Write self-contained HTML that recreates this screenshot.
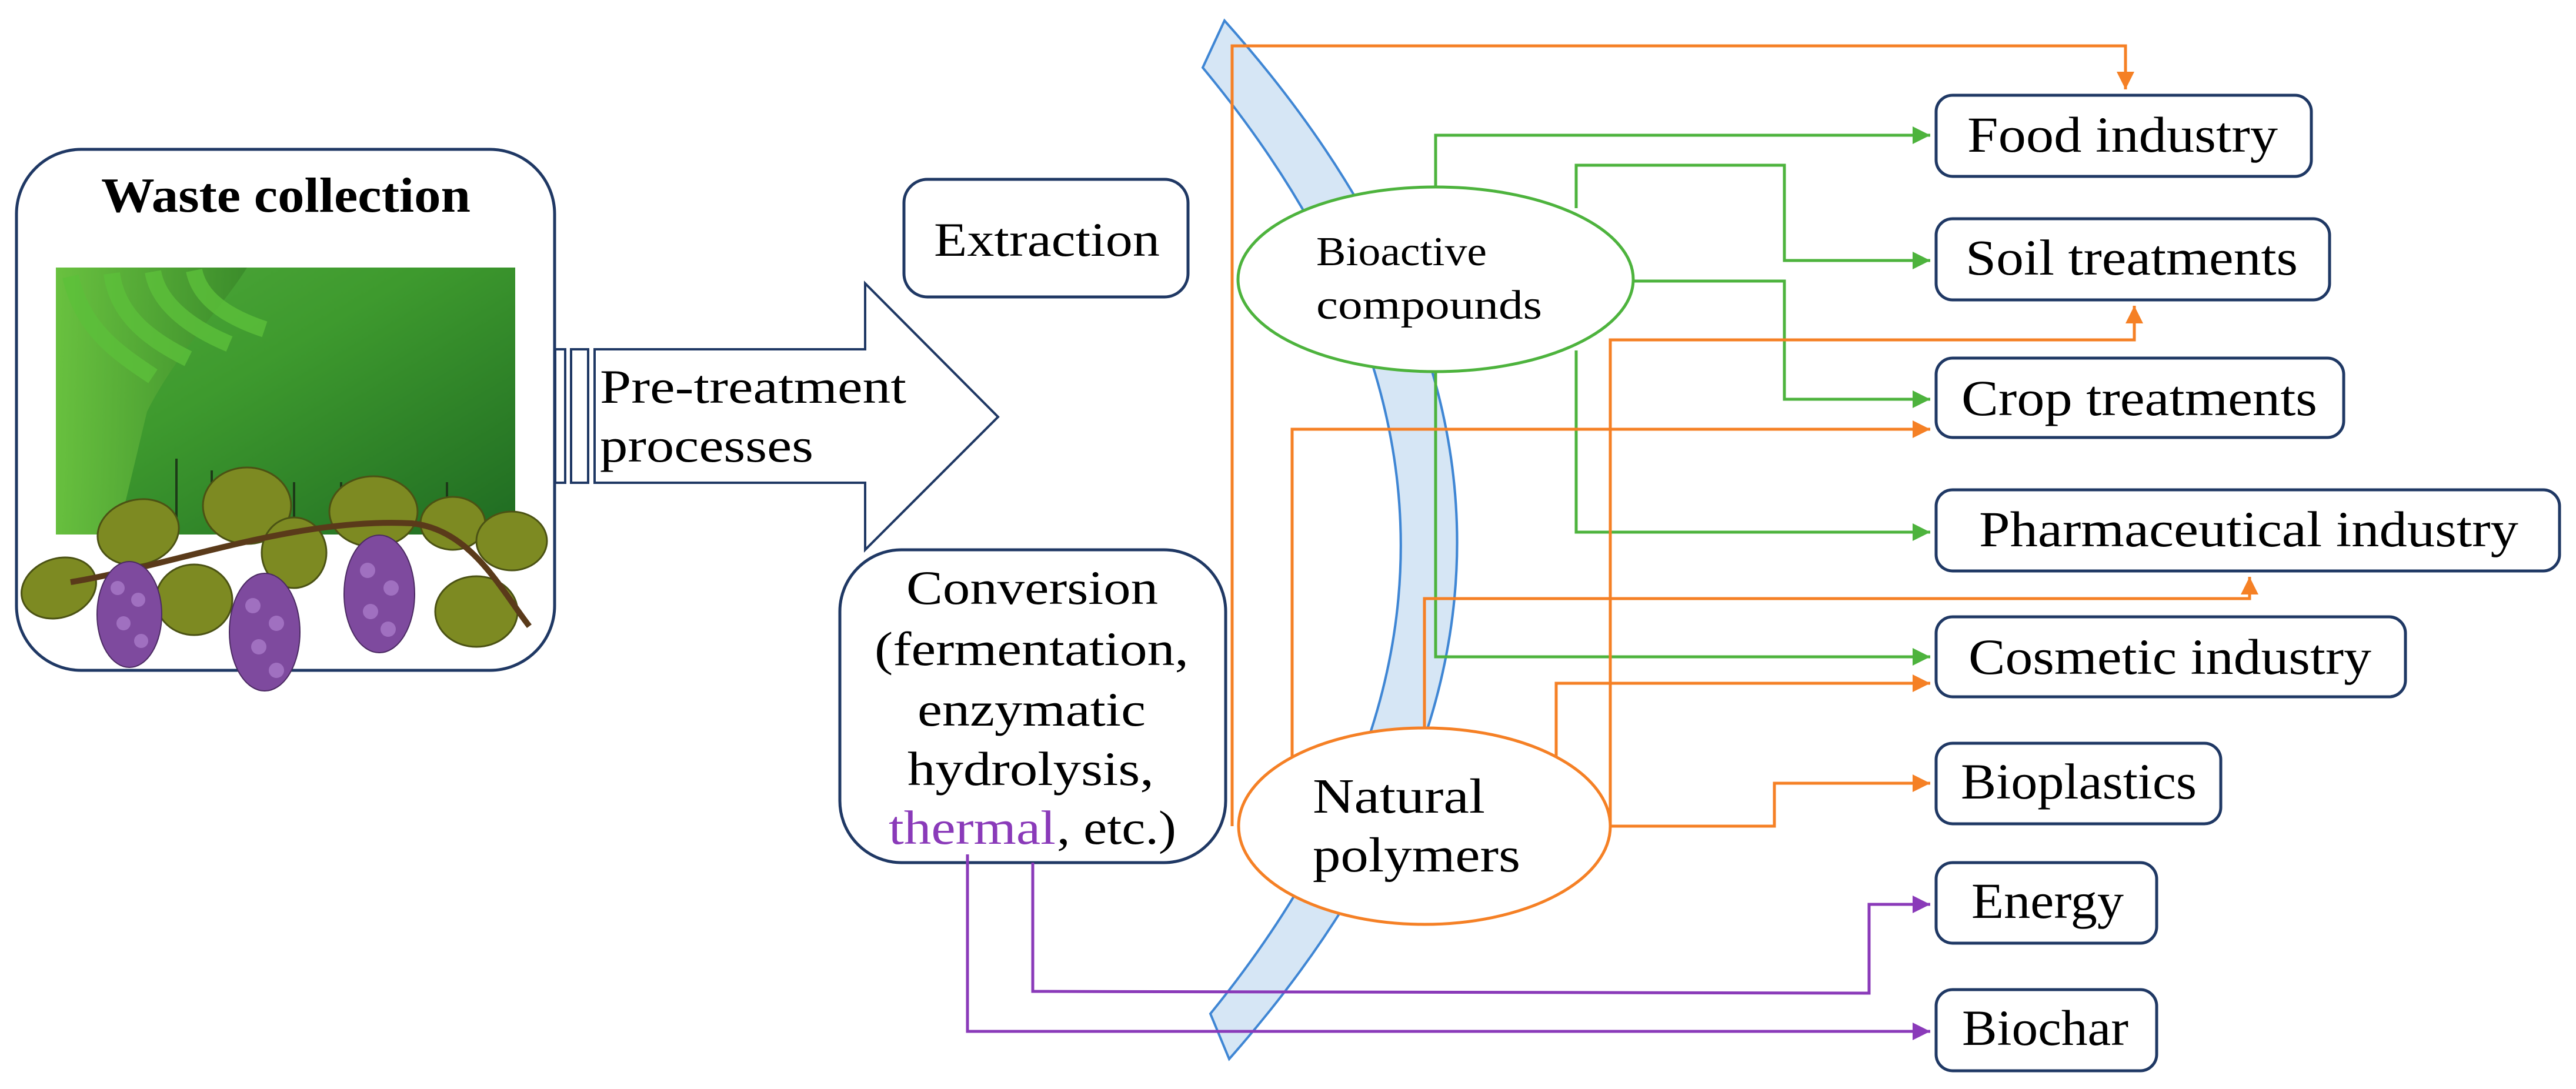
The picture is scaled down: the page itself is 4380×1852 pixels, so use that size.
<!DOCTYPE html>
<html><head><meta charset="utf-8"><style>
html,body{margin:0;padding:0;background:#fff}
svg{display:block}
text{font-family:"Liberation Serif",serif;fill:#000}
</style></head><body>
<svg width="4380" height="1852" viewBox="0 0 4380 1852" xmlns="http://www.w3.org/2000/svg">
<defs>
<linearGradient id="vg" x1="0" y1="0" x2="1" y2="1">
<stop offset="0" stop-color="#4fa83a"/><stop offset="0.4" stop-color="#3e9a2e"/><stop offset="1" stop-color="#1f6b22"/>
</linearGradient>
<linearGradient id="gr" x1="0" y1="0" x2="1" y2="0">
<stop offset="0" stop-color="#6cc440"/><stop offset="1" stop-color="#3a8a2a"/>
</linearGradient>
<marker id="ao" markerWidth="8" markerHeight="8" refX="6" refY="3" orient="auto" markerUnits="strokeWidth"><path d="M0,0 L6,3 L0,6 z" fill="#f58025"/></marker>
<marker id="ag" markerWidth="8" markerHeight="8" refX="6" refY="3" orient="auto" markerUnits="strokeWidth"><path d="M0,0 L6,3 L0,6 z" fill="#4db33d"/></marker>
<marker id="ap" markerWidth="8" markerHeight="8" refX="6" refY="3" orient="auto" markerUnits="strokeWidth"><path d="M0,0 L6,3 L0,6 z" fill="#8a3ab9"/></marker>
</defs>

<!-- Waste collection box -->
<rect x="28" y="254" width="915" height="886" rx="110" fill="#fff" stroke="#1f3864" stroke-width="5"/>
<text x="486" y="360" font-size="84" font-weight="bold" text-anchor="middle" textLength="628" lengthAdjust="spacingAndGlyphs">Waste collection</text>
<!-- vineyard image -->
<rect x="95" y="455" width="781" height="454" fill="url(#vg)"/>
<path d="M95,455 L420,455 C380,520 300,600 250,700 L200,909 L95,909 Z" fill="url(#gr)" opacity="0.9"/>
<g fill="none" stroke="#5cc03a" stroke-width="28" opacity="0.8">
<path d="M120,470 C140,560 200,600 260,640"/>
<path d="M190,465 C200,540 260,580 320,610"/>
<path d="M260,462 C270,520 330,560 390,585"/>
<path d="M330,460 C340,510 390,540 450,560"/>
</g>
<g stroke="#1d3a18" stroke-width="4">
<line x1="300" y1="780" x2="300" y2="880"/><line x1="360" y1="800" x2="360" y2="900"/><line x1="420" y1="810" x2="420" y2="909"/><line x1="500" y1="820" x2="500" y2="909"/><line x1="580" y1="820" x2="580" y2="909"/><line x1="660" y1="820" x2="660" y2="909"/><line x1="760" y1="820" x2="760" y2="909"/>
</g>
<!-- leaves -->
<g fill="#7d8a22" stroke="#4b5214" stroke-width="3">
<ellipse cx="100" cy="1000" rx="65" ry="50" transform="rotate(-20 100 1000)"/>
<ellipse cx="235" cy="905" rx="70" ry="55" transform="rotate(-15 235 905)"/>
<ellipse cx="420" cy="860" rx="75" ry="65"/>
<ellipse cx="330" cy="1020" rx="65" ry="60"/>
<ellipse cx="500" cy="940" rx="55" ry="60"/>
<ellipse cx="635" cy="870" rx="75" ry="60"/>
<ellipse cx="770" cy="890" rx="55" ry="45"/>
<ellipse cx="870" cy="920" rx="60" ry="50"/>
<ellipse cx="810" cy="1040" rx="70" ry="60"/>
</g>
<path d="M120,990 C300,960 500,880 700,890 C800,900 850,1000 900,1065" fill="none" stroke="#5a3a1a" stroke-width="10"/>
<!-- grapes -->
<g fill="#7e4a9e" stroke="#4b2a62" stroke-width="2">
<ellipse cx="220" cy="1045" rx="55" ry="90"/>
<ellipse cx="450" cy="1075" rx="60" ry="100"/>
<ellipse cx="645" cy="1010" rx="60" ry="100"/>
</g>
<g fill="#a070c0">
<circle cx="200" cy="1000" r="12"/><circle cx="235" cy="1020" r="12"/><circle cx="210" cy="1060" r="12"/><circle cx="240" cy="1090" r="12"/>
<circle cx="430" cy="1030" r="13"/><circle cx="470" cy="1060" r="13"/><circle cx="440" cy="1100" r="13"/><circle cx="470" cy="1140" r="13"/>
<circle cx="625" cy="970" r="13"/><circle cx="665" cy="1000" r="13"/><circle cx="630" cy="1040" r="13"/><circle cx="660" cy="1070" r="13"/>
</g>

<!-- small rects -->
<rect x="944" y="594" width="17" height="227" fill="#fff" stroke="#1f3864" stroke-width="4"/>
<rect x="971" y="594" width="29" height="227" fill="#fff" stroke="#1f3864" stroke-width="4"/>
<!-- big arrow -->
<path d="M1011,594 L1471,594 L1471,482 L1697,709 L1471,935 L1471,821 L1011,821 Z" fill="#fff" stroke="#1f3864" stroke-width="4"/>
<text x="1020" y="685" font-size="82" textLength="521" lengthAdjust="spacingAndGlyphs">Pre-treatment</text>
<text x="1020" y="785" font-size="82" textLength="363" lengthAdjust="spacingAndGlyphs">processes</text>

<!-- Extraction -->
<rect x="1537" y="305" width="483" height="200" rx="40" fill="#fff" stroke="#1f3864" stroke-width="5"/>
<text x="1588" y="435" font-size="82" textLength="384" lengthAdjust="spacingAndGlyphs">Extraction</text>

<!-- Conversion -->
<rect x="1428" y="935" width="656" height="532" rx="105" fill="#fff" stroke="#1f3864" stroke-width="5"/>
<text x="1541" y="1027" font-size="82" textLength="428" lengthAdjust="spacingAndGlyphs">Conversion</text>
<text x="1487" y="1131" font-size="82" textLength="534" lengthAdjust="spacingAndGlyphs">(fermentation,</text>
<text x="1560" y="1234" font-size="82" textLength="388" lengthAdjust="spacingAndGlyphs">enzymatic</text>
<text x="1543" y="1335" font-size="82" textLength="419" lengthAdjust="spacingAndGlyphs">hydrolysis,</text>
<text x="1511" y="1435" font-size="82" textLength="284" lengthAdjust="spacingAndGlyphs" style="fill:#8a3ab9">thermal</text>
<text x="1797" y="1435" font-size="82" textLength="203" lengthAdjust="spacingAndGlyphs">, etc.)</text>

<!-- blue band -->
<path d="M2082,35 Q2869,918 2090,1801 L2058,1724 Q2712,920 2045,115 Z" fill="#d6e6f5" stroke="#3f86d4" stroke-width="4"/>

<!-- connectors -->
<g fill="none" stroke-width="5">
<path d="M2095,1405 L2095,78 L3614,78 L3614,152" stroke="#f58025" marker-end="url(#ao)"/>
<path d="M2441,318 L2441,230 L3282,230" stroke="#4db33d" marker-end="url(#ag)"/>
<path d="M2680,354 L2680,281 L3034,281 L3034,443 L3282,443" stroke="#4db33d" marker-end="url(#ag)"/>
<path d="M2778,478 L3034,478 L3034,679 L3282,679" stroke="#4db33d" marker-end="url(#ag)"/>
<path d="M2680,596 L2680,905 L3282,905" stroke="#4db33d" marker-end="url(#ag)"/>
<path d="M2441,632 L2441,1117 L3282,1117" stroke="#4db33d" marker-end="url(#ag)"/>
<path d="M2197,1290 L2197,730 L3282,730" stroke="#f58025" marker-end="url(#ao)"/>
<path d="M2422,1238 L2422,1018 L3825,1018 L3825,981" stroke="#f58025" marker-end="url(#ao)"/>
<path d="M2646,1290 L2646,1162 L3282,1162" stroke="#f58025" marker-end="url(#ao)"/>
<path d="M2738,1405 L2738,578 L3629,578 L3629,520" stroke="#f58025" marker-end="url(#ao)"/>
<path d="M2738,1405 L3017,1405 L3017,1332 L3282,1332" stroke="#f58025" marker-end="url(#ao)"/>
<path d="M1756,1467 L1756,1686 L3178,1689 L3178,1538 L3282,1538" stroke="#8a3ab9" marker-end="url(#ap)"/>
<path d="M1645,1453 L1645,1754 L3282,1754" stroke="#8a3ab9" marker-end="url(#ap)"/>
</g>

<!-- ellipses -->
<ellipse cx="2441" cy="475" rx="336" ry="157" fill="#fff" stroke="#4db33d" stroke-width="5"/>
<text x="2238" y="451" font-size="70" textLength="290" lengthAdjust="spacingAndGlyphs">Bioactive</text>
<text x="2238" y="542" font-size="70" textLength="384" lengthAdjust="spacingAndGlyphs">compounds</text>
<ellipse cx="2422" cy="1405" rx="316" ry="167" fill="#fff" stroke="#f58025" stroke-width="5"/>
<text x="2232" y="1382" font-size="84" textLength="293" lengthAdjust="spacingAndGlyphs">Natural</text>
<text x="2232" y="1482" font-size="84" textLength="353" lengthAdjust="spacingAndGlyphs">polymers</text>

<!-- right boxes -->
<g fill="#fff" stroke="#1f3864" stroke-width="5">
<rect x="3292" y="162" width="638" height="138" rx="28"/>
<rect x="3292" y="372" width="669" height="138" rx="28"/>
<rect x="3292" y="609" width="693" height="135" rx="28"/>
<rect x="3292" y="833" width="1060" height="138" rx="28"/>
<rect x="3292" y="1049" width="798" height="136" rx="28"/>
<rect x="3292" y="1264" width="484" height="137" rx="28"/>
<rect x="3292" y="1467" width="375" height="137" rx="28"/>
<rect x="3292" y="1683" width="375" height="138" rx="28"/>
</g>
<g font-size="86">
<text x="3345" y="258" textLength="528" lengthAdjust="spacingAndGlyphs">Food industry</text>
<text x="3342" y="467" textLength="565" lengthAdjust="spacingAndGlyphs">Soil treatments</text>
<text x="3335" y="706" textLength="605" lengthAdjust="spacingAndGlyphs">Crop treatments</text>
<text x="3365" y="929" textLength="917" lengthAdjust="spacingAndGlyphs">Pharmaceutical industry</text>
<text x="3347" y="1146" textLength="685" lengthAdjust="spacingAndGlyphs">Cosmetic industry</text>
<text x="3334" y="1358" textLength="401" lengthAdjust="spacingAndGlyphs">Bioplastics</text>
<text x="3352" y="1561" textLength="259" lengthAdjust="spacingAndGlyphs">Energy</text>
<text x="3336" y="1777" textLength="283" lengthAdjust="spacingAndGlyphs">Biochar</text>
</g>
</svg>
</body></html>
